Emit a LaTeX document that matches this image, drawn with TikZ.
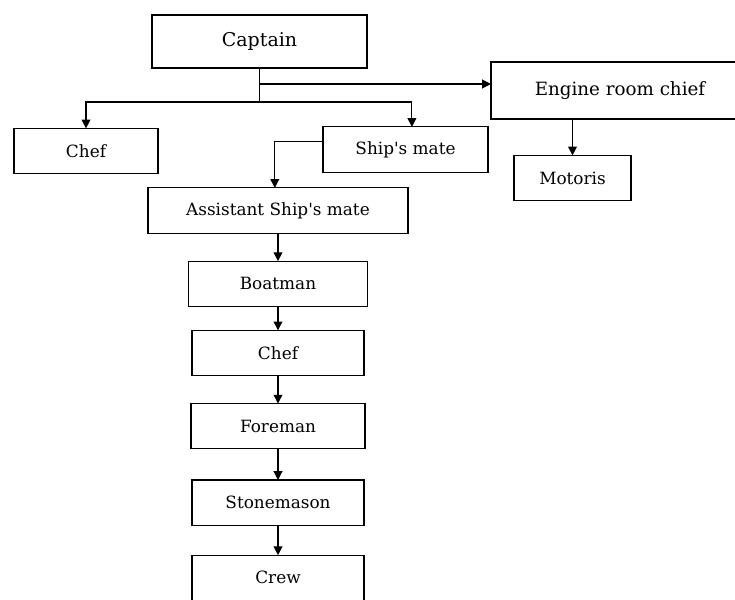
\documentclass[tikz,border=0pt]{standalone}
\usepackage{fontspec}
\setmainfont{DejaVu Serif}
\usetikzlibrary{arrows.meta, positioning}

\begin{document}
\begin{tikzpicture}[
    x=0.025cm, y=-0.025cm,
    post/.style={draw, thick, outer sep=0pt, minimum width=#1,
                 minimum height=1.13cm, font=\fontsize{12}{14}\selectfont},
    every edge/.style={draw, thick, -{Triangle[length=0.22cm, width=0.22cm]}},
    link/.style={draw, thick, -{Triangle[length=0.22cm, width=0.22cm]}}
  ]
  \useasboundingbox (0,0) rectangle (735,599);
  \clip (0,0) rectangle (735,599);

  % top of the ship
  \node[post=5.375cm, minimum height=1.325cm, font=\fontsize{13.5}{15}\selectfont]
       (captain) at (259.5,41.5) {Captain};
  \node[post=3.6cm]   (chef)    at (86,151)    {Chef};
  \node[post=4.125cm] (mate)    at (405.5,149.5) {Ship\textquotesingle s mate};
  \node[post=6.45cm, minimum height=1.425cm, font=\fontsize{13}{15}\selectfont]
       (engine)  at (620,90.5)  {Engine room chief};
  \node[post=2.925cm] (motoris) at (572.5,178) {Motoris};

  % deck column
  \node[post=6.5cm]   (asst)    at (278,210.5) {Assistant Ship\textquotesingle s mate};
  \node[post=4.475cm, below=0.7cm of asst]     (boatman) {Boatman};
  \node[post=4.3cm,   below=0.6cm of boatman]  (cook)    {Chef};
  \node[post=4.35cm,  below=0.7cm of cook]     (foreman) {Foreman};
  \node[post=4.3cm,   below=0.78cm of foreman] (mason)   {Stonemason};
  \node[post=4.3cm,   below=0.75cm of mason]   (crew)    {Crew};

  \coordinate (bus) at (259.5,102);
  \coordinate (tap) at (259.5,84);

  \draw[thick] (captain.south) -- (bus);
  \draw[link] (bus) -| (chef.north);
  \draw[link] (bus) -| ([xshift=0.16cm]mate.north);
  \draw[link] (tap) -- (tap -| engine.west);
  \draw[link] ([yshift=0.21cm]mate.west) -| ([xshift=-0.08cm]asst.north);
  \draw[link] (motoris.north |- engine.south) -- (motoris.north);

  \path (asst)    edge (boatman);
  \path (boatman) edge (cook);
  \path (cook)    edge (foreman);
  \path (foreman) edge (mason);
  \path (mason)   edge (crew);

\end{tikzpicture}
\end{document}
